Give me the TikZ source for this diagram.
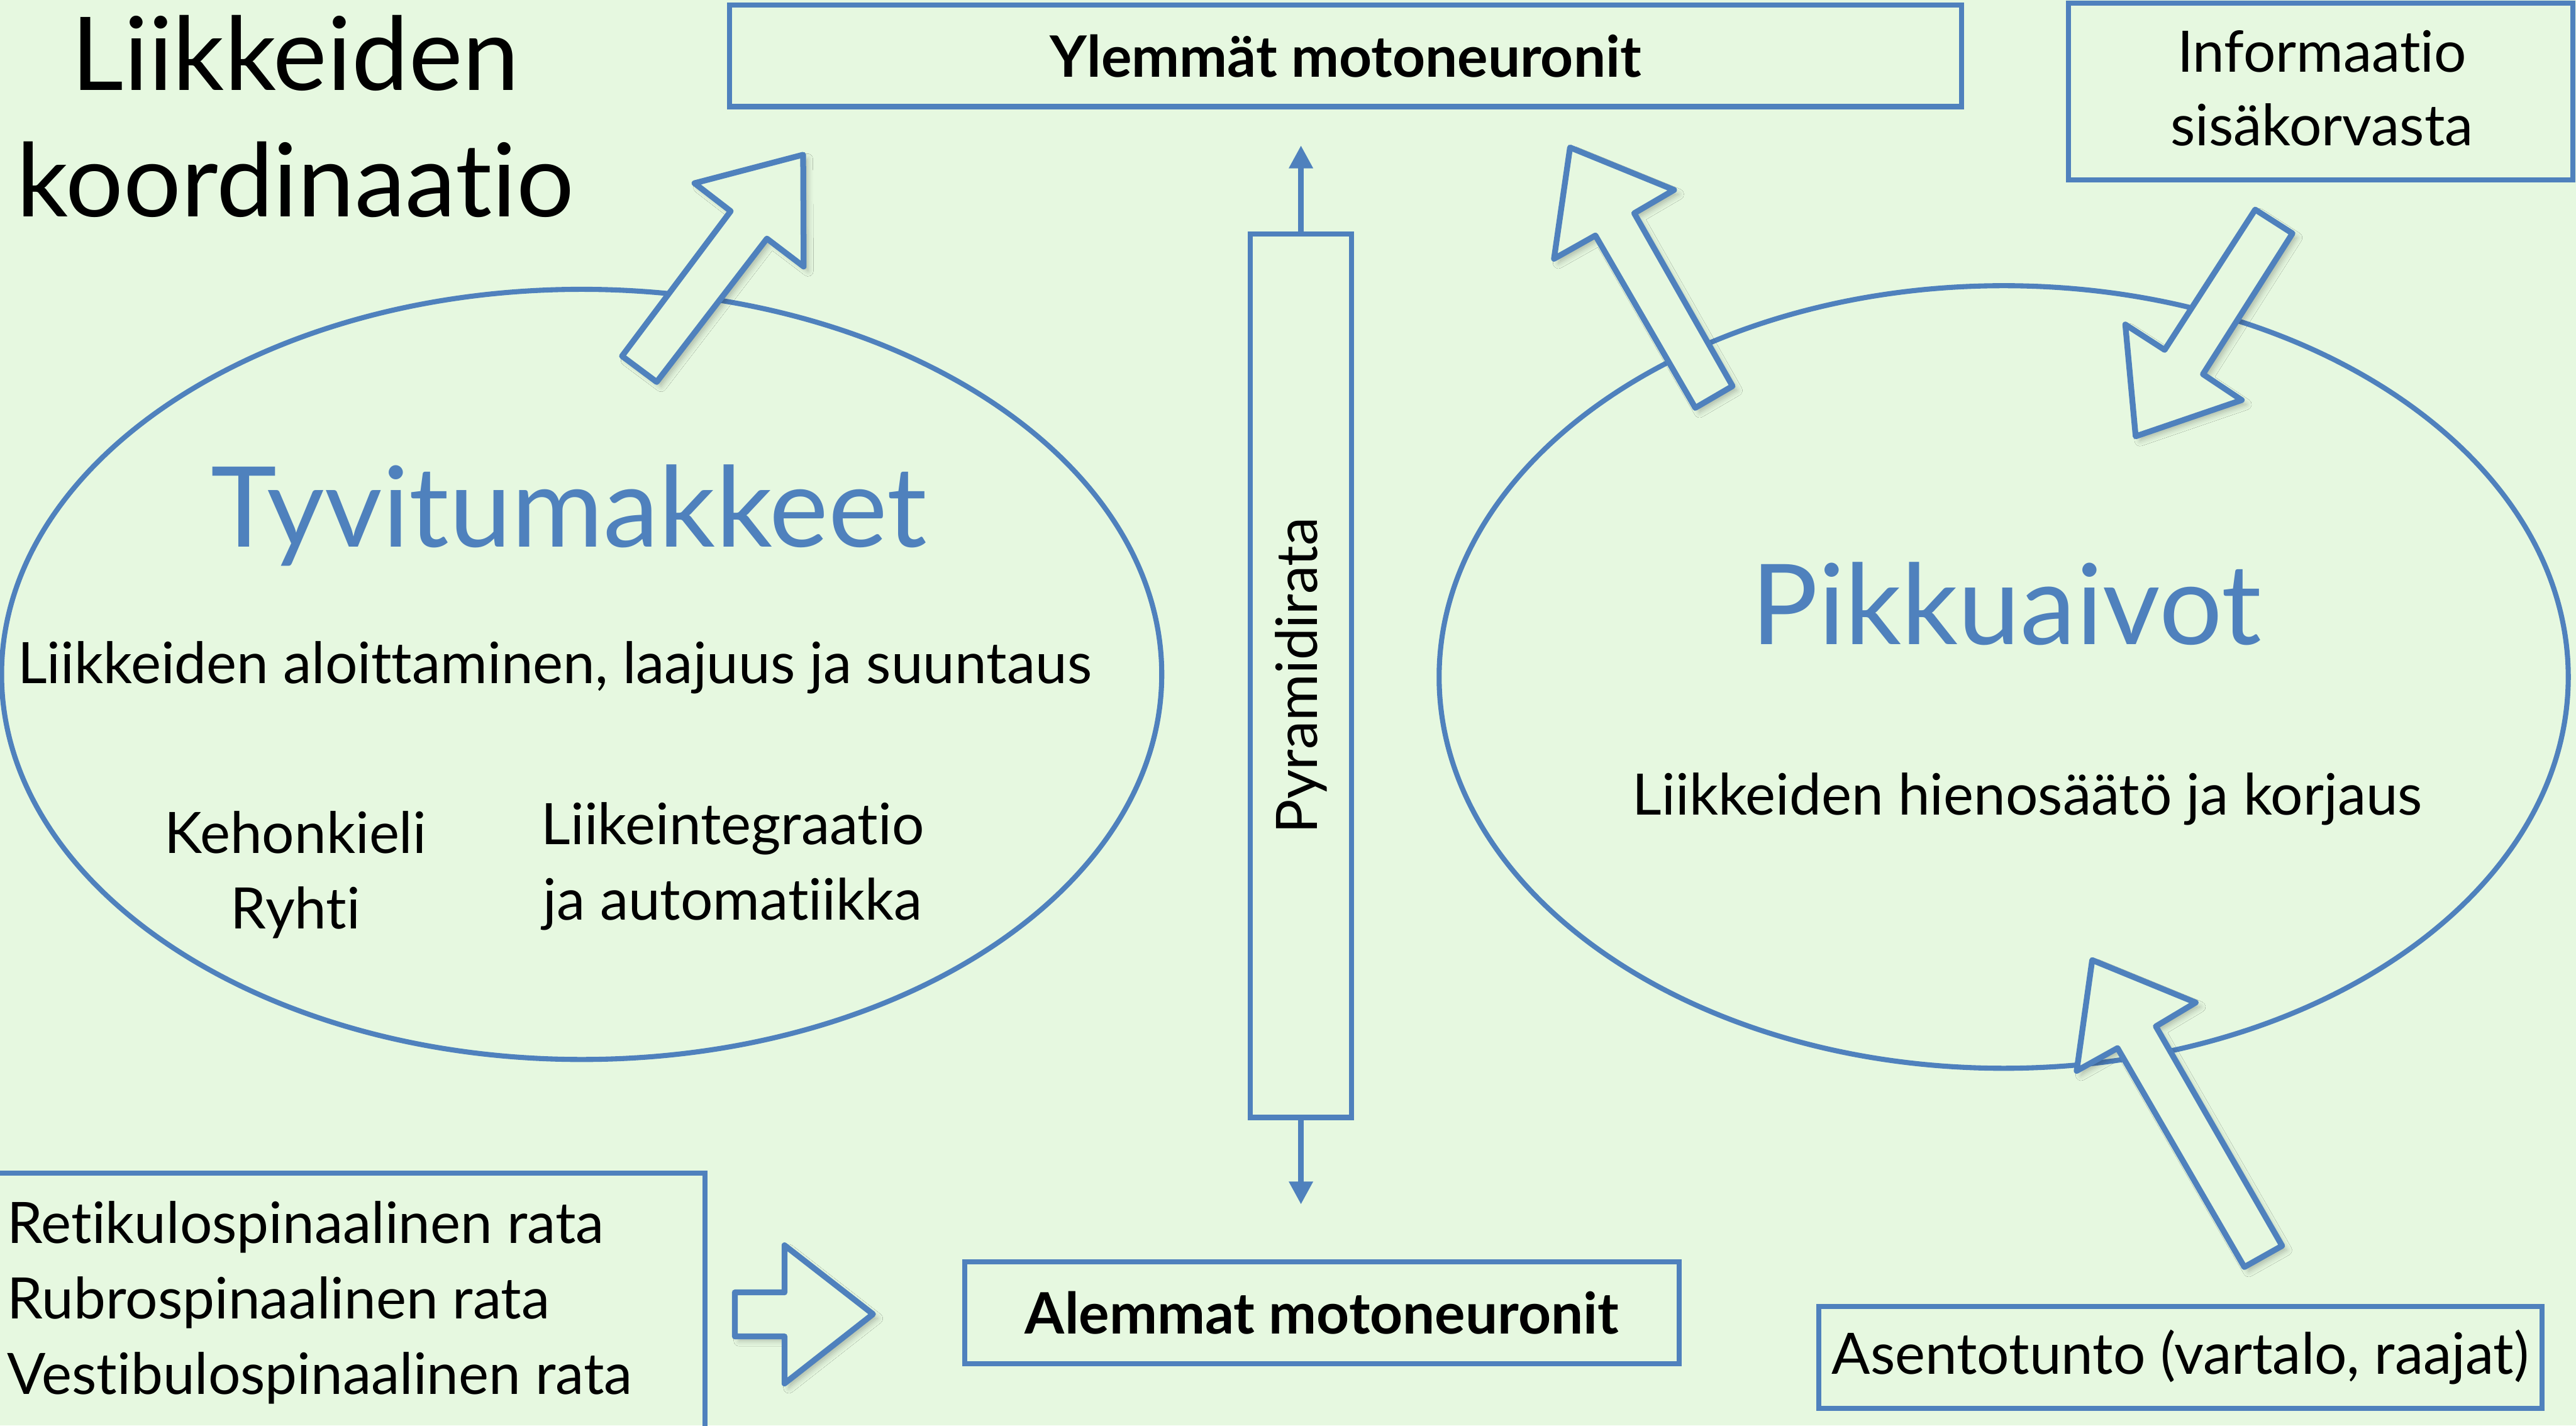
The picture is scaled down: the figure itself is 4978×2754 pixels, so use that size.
\documentclass[tikz,border=0pt]{standalone}
\usepackage{fontspec}
\setmainfont{Lato}[Ligatures=NoCommon]
\usetikzlibrary{arrows.meta,positioning,fit,shadows.blur}

\definecolor{bgcol}{HTML}{E6F8E0}
\definecolor{lineblue}{HTML}{4F81BD}

\begin{document}
\begin{tikzpicture}[x=0.05mm, y=-0.05mm,
    box/.style={draw=lineblue, line width=1.4pt, inner sep=0pt},
    label/.style={font=\fontsize{15.7}{20.8}\selectfont, anchor=base, inner sep=0pt},
    boldlabel/.style={font=\fontsize{15.7}{20}\selectfont\bfseries, inner sep=0pt},
    bigname/.style={font=\fontsize{30.7}{36}\selectfont, text=lineblue, anchor=base, inner sep=0pt},
    blockarrow/.style={draw=lineblue, fill=bgcol, line width=1.6pt, line join=round,
        blur shadow={shadow xshift=1.2pt, shadow yshift=-1.2pt, shadow blur radius=1.5pt, shadow opacity=25}},
    thinarrow/.style={draw=lineblue, line width=1.5pt, -{Triangle[length=6.3pt, width=6.3pt]}}
]
    \fill[bgcol] (0,0) rectangle (4978,2754);
    \useasboundingbox (0,0) rectangle (4978,2754);

    % Title
    \node[font=\fontsize{28}{34}\selectfont, anchor=base, inner sep=0pt] (title1) at (571,175) {Liikkeiden};
    \node[font=\fontsize{28}{34}\selectfont, anchor=base, inner sep=0pt] (title2) at (571,419) {koordinaatio};

    % Ellipses
    \draw[lineblue, line width=1.4pt] (1124,1303) ellipse [x radius=1121, y radius=744];
    \draw[lineblue, line width=1.4pt] (3872,1308) ellipse [x radius=1091, y radius=756];

    % Boxes
    \node[box, fit={(1410,10) (3791,206)}] (ylem) {};
    \node[boldlabel] (ylemtext) at (ylem.center) {Ylemmät motoneuronit};
    \node[box, fit={(3997,6) (4972,348)}] (info) {};
    \node[label, anchor=base] (info1) at (4487,139) {Informaatio};
    \node[label, anchor=base] (info2) at (4487,281) {sisäkorvasta};
    \node[box, fit={(2416,452) (2612,2159)}] (pyr) {};
    \node[label, rotate=90, anchor=center] (pyrtext) at (pyr.center) {Pyramidirata};
    \node[box, fit={(1864,2438) (3245,2635)}] (alem) {};
    \node[boldlabel] (alemtext) at (alem.center) {Alemmat motoneuronit};
    \node[box, fit={(-10,2267) (1362,2820)}] (spin) {};
    \node[box, fit={(3515,2524) (4912,2721)}] (asento) {};
    \node[label, anchor=center] (asentotext) at (asento.center) {Asentotunto (vartalo, raajat)};

    % Pyramidal tract arrows
    \coordinate (pyrup) at (2514,281);
    \coordinate (pyrdown) at (2514,2327);
    \draw[thinarrow] (pyr.north) -- (pyrup);
    \draw[thinarrow] (pyr.south) -- (pyrdown);

    % Texts in the ellipses
    \node[bigname] (tyvi) at (1099,1057) {Tyvitumakkeet};
    \node[label] (tyvitask) at (1072,1321) {Liikkeiden aloittaminen, laajuus ja suuntaus};
    \node[label] (keho) at (571,1648) {Kehonkieli};
    \node[label] (ryhti) at (571,1794) {Ryhti};
    \node[label] (integr) at (1416,1632) {Liikeintegraatio};
    \node[label] (autom) at (1416,1778) {ja automatiikka};
    \node[bigname] (pikku) at (3877,1245) {Pikkuaivot};
    \node[label] (pikkutask) at (3918,1575) {Liikkeiden hienosäätö ja korjaus};

    % Spinal tracts
    \foreach \txt [count=\i] in {Retikulospinaalinen rata, Rubrospinaalinen rata, Vestibulospinaalinen rata}
        \node[label, anchor=base west] (rata\i) at (13,{2402+146*(\i-1)}) {\txt};

    % Block arrows
    \draw[blockarrow] (1202,688) -- (1412,408) -- (1342,354) -- (1552,299) -- (1553,515) -- (1482,461) -- (1269,738) -- cycle;
    \draw[blockarrow] (3276,788) -- (3083,455) -- (3003,500) -- (3034,285) -- (3235,367) -- (3158,412) -- (3348,746) -- cycle;
    \draw[blockarrow] (4358,405) -- (4430,451) -- (4257,723) -- (4332,773) -- (4127,843) -- (4107,627) -- (4183,676) -- cycle;
    \draw[blockarrow] (4337,2448) -- (4092,2025) -- (4013,2069) -- (4043,1855) -- (4243,1937) -- (4166,1983) -- (4410,2407) -- cycle;
    \draw[blockarrow] (1420,2497) -- (1516,2497) -- (1516,2406) -- (1687,2539) -- (1516,2673) -- (1516,2582) -- (1420,2582) -- cycle;
\end{tikzpicture}
\end{document}
